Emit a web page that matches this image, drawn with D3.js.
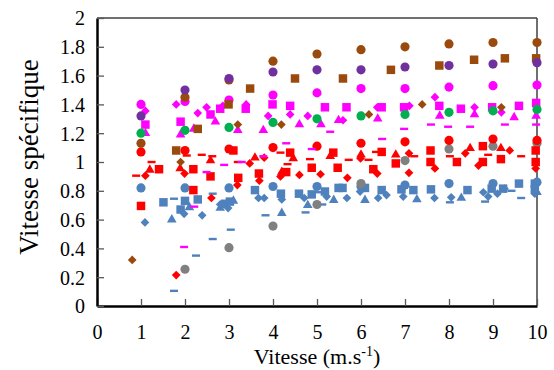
<!DOCTYPE html>
<html>
<head>
<meta charset="utf-8">
<script src="https://cdn.jsdelivr.net/npm/d3@7"></script>
<style>
  body { margin: 0; background: #fff; }
  svg text { font-family: "Liberation Serif", "Times New Roman", serif; fill: #000; }
</style>
</head>
<body>
<div id="chart"></div>
<script>
    // vitesses entieres (series a cercles)
    var vitesseInt = [1, 2, 3, 4, 5, 6, 7, 8, 9, 10];
    var vitesseGris = [2, 3, 4, 5, 6, 7, 8, 9, 10];

    var brownCircle = [1.13, 1.45, 1.57, 1.70, 1.75, 1.78, 1.80, 1.82, 1.83, 1.83];
    var purpleCircle = [1.32, 1.50, 1.58, 1.625, 1.64, 1.64, 1.66, 1.67, 1.68, 1.69];
    var magentaCircle = [1.40, 1.42, 1.43, 1.465, 1.48, 1.51, 1.51, 1.52, 1.53, 1.535];
    var greenCircle = [1.20, 1.22, 1.24, 1.275, 1.30, 1.32, 1.33, 1.345, 1.355, 1.365];
    var redCircle = [1.07, 1.08, 1.09, 1.10, 1.11, 1.13, 1.14, 1.15, 1.16, 1.15];
    var grayCircle = [0.255, 0.405, 0.555, 0.705, 0.85, 1.01, 1.09, 1.11, 1.13];
    var blueCircle = [0.82, 0.82, 0.82, 0.83, 0.83, 0.83, 0.84, 0.85, 0.85, 0.86];

    var brownSquareX = [1.80, 2.29, 2.99, 3.48, 4.50, 5.59, 6.68, 7.78, 8.57, 9.27, 9.98];
    var brownSquareY = [1.08, 1.23, 1.40, 1.51, 1.58, 1.58, 1.64, 1.67, 1.71, 1.72, 1.72];
    var brownDiamondX = [0.80, 1.90, 3.20, 4.19, 6.18, 7.39, 9.19];
    var brownDiamondY = [0.32, 1.00, 1.26, 1.26, 1.33, 1.40, 1.38];

    var magentaSquareX = [1.10, 1.90, 2.58, 2.80, 3.38, 3.99, 4.39, 5.18, 5.67, 6.47, 6.98, 7.78, 8.27, 8.98, 9.59, 9.98];
    var magentaSquareY = [1.26, 1.28, 1.33, 1.37, 1.37, 1.40, 1.39, 1.38, 1.38, 1.38, 1.38, 1.39, 1.37, 1.38, 1.39, 1.41];
    var magentaDiamondX = [1.10, 1.80, 2.29, 2.49, 2.86, 3.39, 3.89, 4.39, 4.79, 5.59, 6.37, 7.10, 7.68, 8.58, 9.19];
    var magentaDiamondY = [1.355, 1.40, 1.34, 1.38, 1.39, 1.40, 1.32, 1.33, 1.32, 1.29, 1.38, 1.39, 1.45, 1.38, 1.345];
    var magentaTriangleX = [1.10, 1.90, 2.20, 2.69, 3.20, 3.78, 4.60, 5.09, 5.49, 6.38, 7.79, 8.58, 9.48, 9.98];
    var magentaTriangleY = [1.20, 1.19, 1.23, 1.28, 1.22, 1.22, 1.26, 1.26, 1.29, 1.30, 1.32, 1.33, 1.31, 1.32];
    var magentaDashX = [1.98, 2.21, 2.49, 2.89, 3.29, 3.78, 4.30, 4.88, 5.30, 6.48, 6.98, 7.59, 7.98, 8.48, 9.27, 9.98];
    var magentaDashY = [0.41, 0.69, 0.93, 0.98, 1.00, 1.04, 1.13, 1.09, 1.21, 1.16, 1.23, 1.26, 1.245, 1.245, 1.26, 1.26];

    var redSquareX = [1.00, 1.41, 2.19, 2.19, 2.58, 3.10, 3.21, 3.68, 4.30, 4.39, 4.88, 5.37, 5.47, 6.28, 6.47, 6.79, 7.58, 7.58, 8.18, 8.77, 8.77, 9.18, 9.97, 9.97];
    var redSquareY = [0.695, 0.95, 0.95, 0.805, 0.90, 1.08, 0.89, 0.92, 0.93, 1.065, 0.96, 1.065, 0.96, 0.95, 1.07, 0.99, 1.08, 1.00, 1.00, 1.11, 1.00, 1.02, 1.08, 1.00];
    var redDiamondX = [1.10, 1.80, 1.99, 2.60, 3.19, 3.47, 3.69, 3.80, 4.17, 4.60, 5.08, 5.69, 5.99, 6.37, 7.09, 7.09, 7.68, 8.37, 8.67, 9.38, 9.97];
    var redDiamondY = [0.905, 0.215, 0.92, 0.75, 0.84, 0.99, 0.87, 1.03, 0.90, 0.91, 0.915, 0.89, 1.025, 0.92, 1.06, 0.925, 0.955, 1.06, 0.975, 1.08, 0.955];
    var redTriangleX = [1.20, 1.89, 2.58, 3.59, 4.20, 4.46, 5.30, 6.00, 6.79, 8.48, 9.18];
    var redTriangleY = [0.945, 0.955, 1.01, 1.03, 0.93, 1.025, 1.04, 1.05, 1.05, 1.095, 1.095];
    var redDashX = [0.89, 1.24, 2.04, 2.38, 2.62, 3.20, 4.17, 4.33, 4.84, 5.72, 6.17, 6.34, 7.21, 8.02, 8.89, 9.64];
    var redDashY = [0.905, 1.00, 1.045, 1.05, 1.04, 1.00, 1.065, 0.985, 1.02, 1.015, 1.015, 1.07, 1.04, 1.04, 1.05, 1.04];

    var blueSquareX = [1.51, 1.90, 2.00, 2.29, 2.91, 3.02, 3.59, 4.18, 4.59, 4.88, 5.18, 5.49, 5.58, 6.09, 6.47, 6.92, 7.19, 7.59, 8.42, 8.97, 9.23, 9.59, 9.95, 9.95];
    var blueSquareY = [0.72, 0.67, 0.73, 0.74, 0.71, 0.725, 0.805, 0.78, 0.78, 0.775, 0.795, 0.82, 0.82, 0.82, 0.805, 0.81, 0.805, 0.81, 0.805, 0.815, 0.815, 0.85, 0.85, 0.81];
    var blueDiamondX = [1.09, 1.98, 2.39, 2.80, 2.98, 3.67, 3.80, 4.20, 4.71, 5.22, 5.68, 5.98, 6.39, 6.58, 6.96, 7.67, 8.05, 8.78, 8.89, 9.10, 9.26, 9.95];
    var blueDiamondY = [0.58, 0.64, 0.63, 0.705, 0.68, 0.75, 0.75, 0.74, 0.75, 0.76, 0.75, 0.795, 0.75, 0.77, 0.76, 0.75, 0.755, 0.79, 0.76, 0.78, 0.815, 0.78];
    var blueTriangleX = [1.70, 2.10, 2.80, 3.10, 4.20, 4.79, 5.38, 6.09, 7.27, 8.28, 10.0];
    var blueTriangleY = [0.60, 0.685, 0.68, 0.73, 0.645, 0.70, 0.735, 0.735, 0.74, 0.75, 0.79];
    var blueDashX = [1.75, 1.75, 2.25, 2.63, 2.63, 3.04, 3.83, 4.74, 5.04, 5.12, 8.02, 8.82, 9.42, 9.64];
    var blueDashY = [0.105, 0.745, 0.35, 0.465, 0.78, 0.53, 0.63, 0.65, 0.79, 0.705, 0.72, 0.725, 0.80, 0.75];

    var xTicks = [0, 1, 2, 3, 4, 5, 6, 7, 8, 9, 10];
    var yTicks = [0, 0.2, 0.4, 0.6, 0.8, 1, 1.2, 1.4, 1.6, 1.8, 2];

    var BROWN = "#9a4a0c", PURPLE = "#7030a0", MAGENTA = "#ff00ff", GREEN = "#00b050",
        RED = "#ff0000", GRAY = "#808080", BLUE = "#4f81bd";

    function zip(xs, ys) { return xs.map(function(x, i) { return [x, ys[i]]; }); }

    // ordre de dessin
    var series = [
      { color: BLUE, shape: "dash", pts: zip(blueDashX, blueDashY) },
      { color: BLUE, shape: "triangle", pts: zip(blueTriangleX, blueTriangleY) },
      { color: BLUE, shape: "diamond", pts: zip(blueDiamondX, blueDiamondY) },
      { color: BLUE, shape: "square", pts: zip(blueSquareX, blueSquareY) },
      { color: BLUE, shape: "circle", pts: zip(vitesseInt, blueCircle) },
      { color: GRAY, shape: "circle", pts: zip(vitesseGris, grayCircle) },
      { color: RED, shape: "dash", pts: zip(redDashX, redDashY) },
      { color: RED, shape: "triangle", pts: zip(redTriangleX, redTriangleY) },
      { color: RED, shape: "diamond", pts: zip(redDiamondX, redDiamondY) },
      { color: RED, shape: "square", pts: zip(redSquareX, redSquareY) },
      { color: RED, shape: "circle", pts: zip(vitesseInt, redCircle) },
      { color: MAGENTA, shape: "dash", pts: zip(magentaDashX, magentaDashY) },
      { color: MAGENTA, shape: "triangle", pts: zip(magentaTriangleX, magentaTriangleY) },
      { color: MAGENTA, shape: "diamond", pts: zip(magentaDiamondX, magentaDiamondY) },
      { color: MAGENTA, shape: "square", pts: zip(magentaSquareX, magentaSquareY) },
      { color: GREEN, shape: "circle", pts: zip(vitesseInt, greenCircle) },
      { color: MAGENTA, shape: "circle", pts: zip(vitesseInt, magentaCircle) },
      { color: BROWN, shape: "diamond", pts: zip(brownDiamondX, brownDiamondY) },
      { color: BROWN, shape: "square", pts: zip(brownSquareX, brownSquareY) },
      { color: BROWN, shape: "circle", pts: zip(vitesseInt, brownCircle) },
      { color: PURPLE, shape: "circle", pts: zip(vitesseInt, purpleCircle) }
    ];

    var W = 554, H = 370;
    var plotL = 97, plotR = 537, plotT = 18, plotB = 306;

    var svg = d3.select("#chart").append("svg").attr("width", W).attr("height", H);

    var x = d3.scaleLinear().domain([0, 10]).range([plotL, plotR]);
    var y = d3.scaleLinear().domain([0, 2]).range([plotB, plotT]);

    // cadre haut / droite
    svg.append("line").attr("x1", plotL).attr("x2", plotR).attr("y1", plotT).attr("y2", plotT)
      .style("stroke", "#404040").style("stroke-width", 1.5);
    svg.append("line").attr("x1", plotR).attr("x2", plotR).attr("y1", plotT).attr("y2", plotB)
      .style("stroke", "#404040").style("stroke-width", 1.5);

    var symbols = {
      circle: d3.symbol().type(d3.symbolCircle).size(66),
      square: d3.symbol().type(d3.symbolSquare).size(72),
      diamond: d3.symbol().type(d3.symbolSquare).size(38),
      triangle: d3.symbol().type(d3.symbolTriangle).size(40)
    };

    var marks = svg.append("g");
    series.forEach(function(s) {
      var g = marks.append("g").style("fill", s.color);
      if (s.shape === "dash") {
        g.selectAll("rect").data(s.pts).enter().append("rect")
          .attr("x", function(d) { return x(d[0]) - 4; })
          .attr("y", function(d) { return y(d[1]) - 1.2; })
          .attr("width", 8).attr("height", 2.4);
      } else {
        g.selectAll("path").data(s.pts).enter().append("path")
          .attr("d", symbols[s.shape]())
          .attr("transform", function(d) {
            var t = "translate(" + x(d[0]) + "," + y(d[1]) + ")";
            return s.shape === "diamond" ? t + " rotate(45)" : t;
          });
      }
    });

    // axes
    var xAxis = svg.append("g").attr("transform", "translate(0," + plotB + ")")
      .call(d3.axisBottom(x).tickValues(xTicks).tickSizeInner(-7).tickSizeOuter(0).tickFormat(d3.format("d")));
    var yAxis = svg.append("g").attr("transform", "translate(" + plotL + ",0)")
      .call(d3.axisLeft(y).tickValues(yTicks).tickSizeInner(-7).tickSizeOuter(0).tickFormat(function(d) { return String(d); }));

    [xAxis, yAxis].forEach(function(a) {
      a.select(".domain").style("stroke", "#000").style("stroke-width", 2.5);
      a.selectAll(".tick line").style("stroke", "#595959").style("stroke-width", 1.3);
      a.selectAll(".tick text").style("font-size", "20px").style("font-family", "Liberation Serif, serif").style("fill", "#000");
    });
    xAxis.selectAll(".tick text").attr("y", 33).attr("dy", 0);
    yAxis.selectAll(".tick text").attr("x", -12).attr("dy", "0.34em");

    // titres
    var xt = svg.append("text").attr("x", (plotL + plotR) / 2).attr("y", 364)
      .style("text-anchor", "middle").style("font-size", "22px");
    xt.append("tspan").text("Vitesse (m.s");
    xt.append("tspan").attr("dy", -8).style("font-size", "14px").text("-1");
    xt.append("tspan").attr("dy", 8).text(")");

    svg.append("text")
      .attr("transform", "translate(38,157) rotate(-90)")
      .style("text-anchor", "middle").style("font-size", "27px")
      .text("Vitesse spécifique");
</script>
</body>
</html>
